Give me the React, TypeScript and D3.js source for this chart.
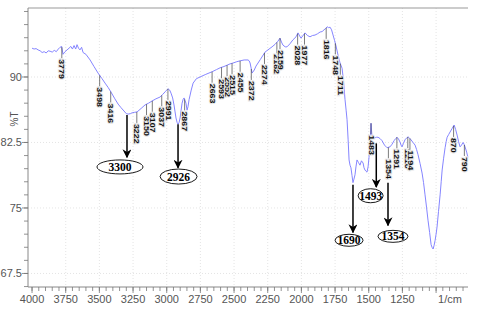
import React from "react";
import * as d3 from "d3";

// Spectrum (wavenumber in 1/cm, transmittance in %T)
const waves = [4000, 3985, 3970, 3955, 3940, 3925, 3910, 3895, 3880, 3866, 3850, 3835, 3820, 3805, 3792, 3780, 3770, 3755, 3740, 3725, 3712, 3700, 3688, 3676, 3666, 3655, 3644, 3632, 3621, 3600, 3569, 3540, 3510, 3480, 3458, 3435, 3413, 3385, 3361, 3340, 3317, 3300, 3287, 3270, 3257, 3240, 3220, 3190, 3161, 3135, 3109, 3080, 3050, 3030, 3012, 3000, 2990, 2978, 2968, 2956, 2946, 2938, 2931, 2923, 2916, 2908, 2901, 2893, 2886, 2878, 2871, 2864, 2857, 2849, 2842, 2834, 2818, 2804, 2780, 2753, 2710, 2663, 2630, 2604, 2575, 2552, 2530, 2507, 2480, 2455, 2425, 2396, 2388, 2381, 2373, 2366, 2350, 2337, 2305, 2270, 2240, 2218, 2195, 2174, 2159, 2148, 2137, 2120, 2107, 2085, 2063, 2040, 2025, 2013, 2003, 1990, 1973, 1955, 1936, 1918, 1899, 1880, 1861, 1846, 1832, 1820, 1809, 1798, 1787, 1776, 1765, 1754, 1743, 1728, 1713, 1698, 1687, 1676, 1668, 1661, 1653, 1646, 1639, 1632, 1624, 1617, 1610, 1602, 1595, 1587, 1576, 1565, 1554, 1542, 1535, 1528, 1520, 1513, 1505, 1498, 1490, 1483, 1475, 1464, 1453, 1442, 1431, 1416, 1401, 1383, 1364, 1353, 1342, 1327, 1312, 1300, 1290, 1279, 1268, 1260, 1253, 1242, 1231, 1220, 1208, 1197, 1186, 1171, 1156, 1145, 1134, 1119, 1104, 1093, 1082, 1071, 1060, 1048, 1037, 1030, 1022, 1015, 1007, 1000, 993, 982, 970, 962, 955, 944, 933, 925, 918, 907, 896, 881, 866, 855, 844, 833, 822, 811, 800, 792, 785, 773, 764];
const trans = [93.3, 93.2, 93.25, 93.1, 93.0, 92.8, 92.9, 92.75, 93.0, 92.95, 92.85, 93.05, 92.9, 93.2, 93.4, 93.5, 92.6, 92.9, 93.1, 93.3, 93.5, 93.2, 93.6, 93.2, 93.7, 93.3, 93.1, 93.4, 92.8, 92.6, 91.95, 91.2, 90.45, 89.8, 89.3, 88.8, 88.25, 87.5, 86.9, 86.5, 86.1, 85.8, 85.75, 85.8, 85.9, 85.95, 86.0, 86.4, 86.8, 87.0, 87.25, 87.5, 87.7, 88.0, 88.3, 88.5, 88.65, 88.5, 88.15, 87.6, 86.8, 86.0, 85.3, 84.8, 84.6, 84.8, 85.3, 86.2, 87.0, 87.45, 87.6, 87.3, 87.0, 86.2, 86.6, 87.4, 88.5, 89.3, 89.8, 90.0, 90.3, 90.6, 90.85, 91.05, 91.2, 91.35, 91.5, 91.6, 91.75, 91.85, 91.95, 91.95, 91.85, 91.6, 91.0, 90.45, 90.8, 91.25, 92.0, 92.85, 93.2, 93.45, 93.75, 94.1, 94.45, 94.0, 93.65, 93.45, 93.45, 93.8, 94.25, 94.6, 95.05, 94.7, 94.45, 94.7, 95.05, 94.75, 94.6, 94.75, 94.8, 94.95, 95.15, 95.2, 95.4, 95.55, 95.75, 95.65, 95.7, 95.4, 94.8, 94.2, 93.55, 92.5, 91.6, 91.0, 89.5, 87.4, 86.2, 85.1, 82.8, 80.5, 79.9, 79.6, 78.7, 77.9, 78.3, 78.8, 79.7, 80.5, 80.2, 79.9, 80.4, 80.15, 79.6, 79.35, 79.2, 79.1, 79.7, 80.8, 82.4, 84.7, 83.0, 83.0, 83.05, 83.1, 83.1, 82.95, 82.7, 82.2, 81.9, 81.95, 82.0, 82.3, 82.7, 82.95, 83.1, 82.9, 82.55, 82.2, 82.0, 82.4, 82.8, 83.0, 83.15, 83.0, 82.8, 82.5, 82.2, 81.7, 81.1, 80.1, 79.0, 77.9, 76.5, 75.1, 73.6, 72.2, 70.8, 70.5, 70.3, 70.7, 71.3, 72.0, 72.8, 74.6, 76.5, 78.0, 79.35, 80.7, 81.9, 82.6, 83.1, 83.4, 83.7, 84.1, 84.5, 84.0, 83.35, 82.6, 82.0, 82.2, 82.5, 82.3, 82.0, 81.4, 80.8];

// Peak labels printed by the instrument
const peakWaves = [3779, 3498, 3416, 3222, 3150, 3107, 3037, 2991, 2867, 2663, 2593, 2552, 2515, 2455, 2372, 2274, 2182, 2159, 2028, 1977, 1816, 1748, 1711, 1483, 1354, 1291, 1210, 1194, 870, 790];
const peakTexts = ["3779", "3498", "3416", "3222", "3150", "3107", "3037", "2991", "2867", "2663", "2593", "2552", "2515", "2455", "2372", "2274", "2182", "2159", "2028", "1977", "1816", "1748", "1711", "1483", "1354", "1291", "1210", "1194", "870", "790"];

// Hand-drawn annotations (arrow wavenumber, arrow start/end %T, ellipse centre)
const annTexts = ["3300", "2926", "1690", "1493", "1354"];
const annArrowWave = [3295, 2916, 1617, 1444, 1357];
const annFromT = [85.65, 84.6, 77.65, 82.4, 77.9];
const annToT = [80.8, 79.6, 72.2, 77.4, 73.0];
const annEllWave = [3347, 2912, 1646, 1486, 1320];
const annEllT = [79.7, 78.6, 71.3, 76.4, 71.75];

// Axis ticks
const xMajor = [4000, 3750, 3500, 3250, 3000, 2750, 2500, 2250, 2000, 1750, 1500, 1250];
const yMajor = [90, 82.5, 75, 67.5];

const W = 480, H = 317;
const L = 28, R = 468, T0 = 8, B = 287;
const annSize = [[23, 7], [18.5, 7.5], [14, 6], [12.5, 7], [15, 6]];

export default function App() {
  const x = d3.scaleLinear().domain([4030, 763]).range([L, R]);
  const y = d3.scaleLinear().domain([65.95, 97.9]).range([B, T0]);
  const pts: [number, number][] = waves.map((w, i) => [w, trans[i]]);
  const line = d3.line<[number, number]>().x(d => x(d[0])).y(d => y(d[1]));
  const interp = (w: number) => {
    for (let i = 0; i < waves.length - 1; i++) {
      if (w <= waves[i] && w >= waves[i + 1]) {
        const t = (waves[i] - w) / (waves[i] - waves[i + 1]);
        return trans[i] + t * (trans[i + 1] - trans[i]);
      }
    }
    return trans[trans.length - 1];
  };
  const xMinor = d3.range(4000, 799, -50);
  const yMinor = d3.range(66, 97.6, 1.5);
  const gridX = [...xMajor.slice(1), 1000];
  const tickFont = "'Liberation Sans Narrow', 'Arial Narrow', 'Liberation Sans', sans-serif";

  return (
    <div style={{ position: "absolute", left: 0, top: 0 }}>
      <svg width={W} height={H} style={{ display: "block", background: "#fff" }}>
        <defs>
          <marker id="ah" viewBox="0 0 10 10" refX="9" refY="5" markerWidth="9" markerHeight="9" orient="auto" markerUnits="userSpaceOnUse">
            <path d="M0,0 L10,5 L0,10 L3,5 Z" fill="#000" />
          </marker>
        </defs>
        {/* grid */}
        {gridX.map(v => (
          <line key={"gx" + v} x1={x(v)} x2={x(v)} y1={T0} y2={B} stroke="#ddd" strokeWidth={0.8} strokeDasharray="1,2" />
        ))}
        {yMajor.map(v => (
          <line key={"gy" + v} x1={L} x2={R} y1={y(v)} y2={y(v)} stroke="#ddd" strokeWidth={0.8} strokeDasharray="1,2" />
        ))}
        {/* frame */}
        <line x1={L} x2={R} y1={T0} y2={T0} stroke="#999" strokeWidth={1} />
        <line x1={L} x2={L} y1={T0} y2={B} stroke="#888" strokeWidth={1} />
        <line x1={L} x2={R} y1={B} y2={B} stroke="#888" strokeWidth={1} />
        {/* x ticks */}
        {xMinor.map(v => (
          <line key={"xm" + v} x1={x(v)} x2={x(v)} y1={B} y2={B + 4} stroke="#777" strokeWidth={0.8} />
        ))}
        {gridX.concat([4000]).map(v => (
          <line key={"xM" + v} x1={x(v)} x2={x(v)} y1={B} y2={B + 6} stroke="#777" strokeWidth={0.8} />
        ))}
        {xMajor.map(v => (
          <text key={"xl" + v} x={x(v)} y={303} textAnchor="middle" fontSize={11} fill="#555" fontFamily={tickFont}>{v}</text>
        ))}
        <text x={450} y={303} textAnchor="middle" fontSize={11} fill="#555" fontFamily={tickFont}>1/cm</text>
        {/* y ticks */}
        {yMinor.map(v => (
          <line key={"ym" + v} x1={L - 4} x2={L} y1={y(v)} y2={y(v)} stroke="#777" strokeWidth={0.8} />
        ))}
        {yMajor.map(v => (
          <line key={"yM" + v} x1={L - 6} x2={L} y1={y(v)} y2={y(v)} stroke="#777" strokeWidth={0.8} />
        ))}
        {yMajor.map(v => (
          <text key={"yl" + v} x={L - 6} y={y(v) + 4} textAnchor="end" fontSize={11} fill="#555" fontFamily={tickFont}>{v}</text>
        ))}
        <text transform={`translate(18,119) rotate(-90)`} textAnchor="middle" fontSize={10} fill="#555" fontFamily={tickFont}>%T</text>
        {/* spectrum */}
        <path d={line(pts) || ""} fill="none" stroke="#8585ff" strokeWidth={1} />
        {/* peak labels */}
        {peakWaves.map((w, i) => {
          const px = x(w);
          const py = y(interp(w));
          const top = py + 12;
          const len = peakTexts[i].length * 4.9;
          return (
            <g key={"pk" + i}>
              <line x1={px} x2={px} y1={py} y2={top - 1} stroke="#444" strokeWidth={0.7} />
              <text transform={`translate(${px - 2.4},${top}) rotate(90)`} fontSize={8} fontWeight="bold" fill="#111"
                fontFamily="'Liberation Sans', Arial, sans-serif" textLength={len} lengthAdjust="spacingAndGlyphs"
                stroke="#e6e6e6" strokeWidth={2} paintOrder="stroke" >{peakTexts[i]}</text>
            </g>
          );
        })}
        {/* annotations */}
        {annTexts.map((t, i) => {
          const ax = x(annArrowWave[i]);
          const ex = x(annEllWave[i]);
          const ey = y(annEllT[i]);
          return (
            <g key={"an" + i}>
              <line x1={ax} x2={ax} y1={y(annFromT[i])} y2={y(annToT[i])} stroke="#000" strokeWidth={1.5} markerEnd="url(#ah)" />
              <ellipse cx={ex} cy={ey} rx={annSize[i][0]} ry={annSize[i][1]} fill="#fff" stroke="#000" strokeWidth={0.9} />
              <text x={ex} y={ey + 4} textAnchor="middle" fontSize={11.5} fontWeight="bold" fontFamily="'Liberation Serif', 'Times New Roman', serif" fill="#000">{t}</text>
            </g>
          );
        })}
      </svg>
    </div>
  );
}
